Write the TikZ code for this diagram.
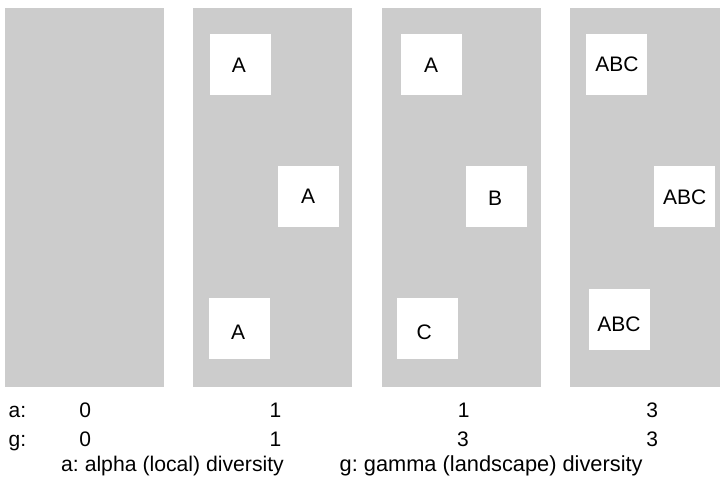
\documentclass[tikz,border=0pt]{standalone}
\usepackage{fontspec}
\setmainfont{Liberation Sans}
\frenchspacing
\definecolor{panelgray}{RGB}{204,204,204}
\begin{document}
\begin{tikzpicture}[x=1pt,y=-1pt,
  panel/.style={fill=panelgray, draw=none, inner sep=0pt, minimum width=159pt, minimum height=379pt},
  cell/.style={fill=white, draw=none, inner sep=0pt, minimum size=61pt},
  lbl/.style={inner sep=0pt, font=\fontsize{21pt}{25pt}\selectfont},
  rowtxt/.style={inner sep=0pt, anchor=base, font=\fontsize{21pt}{25pt}\selectfont},
  rowhead/.style={inner sep=0pt, anchor=base west, font=\fontsize{21pt}{25pt}\selectfont\frenchspacing}]
\useasboundingbox (0,0) rectangle (720,485);
% panels
\node[panel] (p1) at (84.5,197.5) {};
\node[panel] (p2) at (272.5,197.5) {};
\node[panel] (p3) at (461.5,197.5) {};
\node[panel, minimum width=150pt] (p4) at (645,197.5) {};
% white cells
\node[cell] (b21) at (240.5,64.5) {};
\node[cell] (b22) at (308.5,196.5) {};
\node[cell] (b23) at (239.5,328) {};
\node[cell] (b31) at (431.5,64.5) {};
\node[cell] (b32) at (496.5,196.5) {};
\node[cell] (b33) at (427.5,328) {};
\node[cell] (b41) at (616.5,64.5) {};
\node[cell] (b42) at (684.5,196.5) {};
\node[cell] (b43) at (619,319.5) {};
% cell texts
\node[lbl] (t21) at (239,65.3) {A};
\node[lbl] (t22) at (308,196.5) {A};
\node[lbl] (t23) at (238,332.5) {A};
\node[lbl] (t31) at (431,65) {A};
\node[lbl] (t32) at (495,198) {B};
\node[lbl] (t33) at (424.2,332.3) {C};
\node[lbl] (t41) at (617,64.5) {ABC};
\node[lbl] (t42) at (684.7,196.8) {ABC};
\node[lbl] (t43) at (619,324.5) {ABC};
% rows
\node[rowhead] (ha) at (8.5,417) {a:};
\node[rowhead] (hg) at (8.5,446) {g:};
\node[rowtxt] (a1) at (85.3,417) {0};
\node[rowtxt] (a2) at (275.5,417) {1};
\node[rowtxt] (a3) at (463.8,417) {1};
\node[rowtxt] (a4) at (652.2,417) {3};
\node[rowtxt] (g1) at (85.3,446) {0};
\node[rowtxt] (g2) at (275.5,446) {1};
\node[rowtxt] (g3) at (463,446) {3};
\node[rowtxt] (g4) at (652.2,446) {3};
% legend
\node[rowhead, font=\fontsize{21.2pt}{25pt}\selectfont] (la) at (61,471) {a: alpha (local) diversity};
\node[rowhead, font=\fontsize{21.8pt}{25pt}\selectfont] (lg) at (339.5,471) {g: gamma (landscape) diversity};
\end{tikzpicture}
\end{document}
